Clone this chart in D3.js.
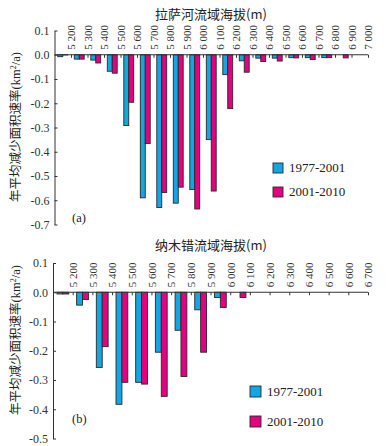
<!DOCTYPE html>
<html>
<head>
<meta charset="utf-8">
<script src="https://cdn.jsdelivr.net/npm/d3@7"></script>
<style>
  body { margin: 0; background: #fff; }
  svg { display: block; }
  text { fill: #222; }
</style>
</head>
<body>
<div id="chart"></div>
<script>
// DATA
const seriesNames = ['1977-2001', '2001-2010'];

// Lhasa river basin, bins of 100 m starting at 5100
const lhasaBins = [5100, 5200, 5300, 5400, 5500, 5600, 5700, 5800, 5900, 6000,
  6100, 6200, 6300, 6400, 6500, 6600, 6700, 6800, 6900];
const lhasaTicks = [5200, 5300, 5400, 5500, 5600, 5700, 5800, 5900, 6000, 6100,
  6200, 6300, 6400, 6500, 6600, 6700, 6800, 6900, 7000];
const lhasa1977 = [-0.008, -0.018, -0.022, -0.068, -0.292, -0.590, -0.630, -0.612, -0.556, -0.350,
  -0.082, -0.025, -0.014, -0.014, -0.012, -0.012, -0.012, 0, 0];
const lhasa2001 = [-0.001, -0.018, -0.034, -0.076, -0.196, -0.366, -0.568, -0.546, -0.636, -0.562,
  -0.222, -0.072, -0.028, -0.026, -0.013, -0.020, -0.012, -0.013, 0];
const lhasaYTicks = [0.1, 0, -0.1, -0.2, -0.3, -0.4, -0.5, -0.6, -0.7];

// Nam Co basin
const namcoBins = [5100, 5200, 5300, 5400, 5500, 5600, 5700, 5800, 5900, 6000,
  6100, 6200, 6300, 6400, 6500, 6600];
const namcoTicks = [5200, 5300, 5400, 5500, 5600, 5700, 5800, 5900, 6000, 6100,
  6200, 6300, 6400, 6500, 6600, 6700];
const namco1977 = [-0.006, -0.044, -0.257, -0.383, -0.308, -0.205, -0.130, -0.060, -0.018, 0,
  0, 0, 0, 0, 0, 0];
const namco2001 = [-0.006, -0.025, -0.186, -0.308, -0.314, -0.356, -0.288, -0.205, -0.052, -0.018,
  0, 0, 0, 0, 0, 0];
const namcoYTicks = [0.1, 0, -0.1, -0.2, -0.3, -0.4, -0.5];

const colors = ['#12a7e2', '#e4007f'];
const serif = "'Liberation Serif', 'Times New Roman', 'Noto Sans CJK SC', serif";
const cjk = "'Noto Sans CJK SC', sans-serif";

const svg = d3.select('#chart').append('svg')
  .attr('width', 387)
  .attr('height', 446);

function drawPanel(p) {
  const g = svg.append('g');

  const x = d3.scaleLinear()
    .domain([p.bins[0], p.ticks[p.ticks.length - 1]])
    .range([p.left, p.right]);
  const y = d3.scaleLinear()
    .domain(p.yDomain)
    .range([p.bottom, p.top]);

  const xGroup = d3.scaleBand()
    .domain(p.bins)
    .range([p.left, p.right])
    .paddingInner(0.4)
    .paddingOuter(0.2);
  const xSub = d3.scaleBand()
    .domain([0, 1])
    .range([0, xGroup.bandwidth()]);

  // title
  g.append('text')
    .attr('x', 211)
    .attr('y', p.titleY)
    .attr('text-anchor', 'middle')
    .style('font-family', cjk)
    .style('font-size', '13px')
    .text(p.title);

  // bars
  const series = [p.s1, p.s2];
  series.forEach((vals, k) => {
    g.append('g').selectAll('rect')
      .data(p.bins.map((b, i) => ({ b, v: vals[i] })).filter(d => d.v !== 0))
      .enter().append('rect')
        .attr('x', d => xGroup(d.b) + xSub(k))
        .attr('y', d => y(Math.max(0, d.v)))
        .attr('width', xSub.bandwidth())
        .attr('height', d => Math.abs(y(d.v) - y(0)))
        .attr('fill', colors[k])
        .attr('stroke', '#2a2a2a')
        .attr('stroke-width', 0.9);
  });

  // x axis along zero line, labels above
  const xAxis = d3.axisBottom(x)
    .tickValues(p.ticks)
    .tickSize(3)
    .tickSizeOuter(0)
    .tickFormat(d => d3.format(',')(d).replace(',', ' '));
  const gx = g.append('g')
    .attr('transform', `translate(0,${y(0)})`)
    .call(xAxis);
  gx.selectAll('text')
    .attr('transform', 'rotate(-90)')
    .attr('x', 5)
    .attr('y', 0)
    .attr('dy', '0.35em')
    .attr('text-anchor', 'start')
    .style('font-family', serif)
    .style('font-size', '11px')
    .style('fill', '#333');
  gx.selectAll('line, path').attr('stroke', '#333');
  gx.select('.domain').attr('d', `M${p.left},0H${p.right}`);

  // y axis
  const yAxis = d3.axisLeft(y)
    .tickValues(p.yTicks)
    .tickSize(-3)
    .tickSizeOuter(0)
    .tickPadding(5)
    .tickFormat(d => d.toFixed(1));
  const gy = g.append('g')
    .attr('transform', `translate(${p.left},0)`)
    .call(yAxis);
  gy.selectAll('text')
    .style('font-family', serif)
    .style('font-size', '12px')
    .style('fill', '#333');
  gy.selectAll('line, path').attr('stroke', '#333');

  // y label
  const yl = g.append('text')
    .attr('transform', `translate(20,${p.yLabelY}) rotate(-90)`)
    .attr('text-anchor', 'middle')
    .style('font-family', serif)
    .style('font-size', '12.5px');
  yl.append('tspan').style('font-family', cjk).text('年平均减少面积速率');
  yl.append('tspan').text('(km');
  yl.append('tspan').attr('dy', -4).style('font-size', '8px').text('2');
  yl.append('tspan').attr('dy', 4).text('/a)');

  // panel letter
  g.append('text')
    .attr('x', 72)
    .attr('y', p.letterY)
    .style('font-family', serif)
    .style('font-size', '12.5px')
    .text(p.letter);

  // legend
  const lg = g.append('g')
    .attr('transform', `translate(${p.legX},${p.legY})`);
  seriesNames.forEach((name, k) => {
    lg.append('rect')
      .attr('x', 0)
      .attr('y', k * p.legGap)
      .attr('width', p.legBox)
      .attr('height', p.legBox)
      .attr('fill', colors[k])
      .attr('stroke', '#2a2a2a')
      .attr('stroke-width', 0.9);
    lg.append('text')
      .attr('x', p.legBox + 6)
      .attr('y', k * p.legGap + p.legBox - 1)
      .style('font-family', serif)
      .style('font-size', '13px')
      .text(name);
  });
}

drawPanel({
  title: '拉萨河流域海拔(m)', titleY: 19,
  bins: lhasaBins, ticks: lhasaTicks, s1: lhasa1977, s2: lhasa2001,
  yDomain: [-0.7, 0.1], yTicks: lhasaYTicks,
  left: 54.5, right: 368, top: 30.5, bottom: 224.5,
  yLabelY: 127, letter: '(a)', letterY: 222,
  legX: 273, legY: 163, legGap: 24, legBox: 10
});

drawPanel({
  title: '纳木错流域海拔(m)', titleY: 250,
  bins: namcoBins, ticks: namcoTicks, s1: namco1977, s2: namco2001,
  yDomain: [-0.5, 0.1], yTicks: namcoYTicks,
  left: 53, right: 368, top: 263, bottom: 438.5,
  yLabelY: 340, letter: '(b)', letterY: 423,
  legX: 250, legY: 386, legGap: 30, legBox: 11
});
</script>
</body>
</html>
